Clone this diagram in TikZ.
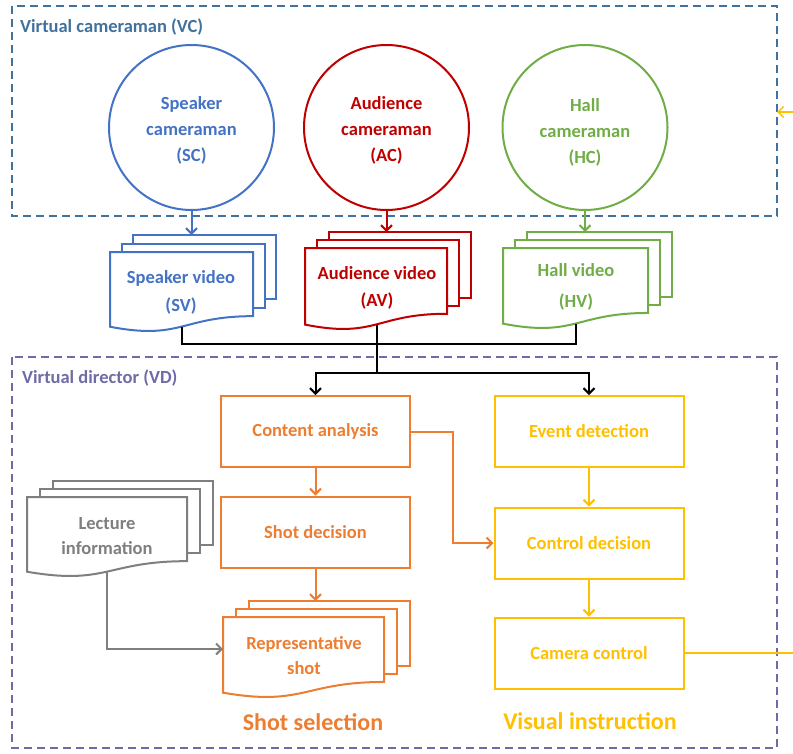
\documentclass[tikz,border=0pt]{standalone}
\usepackage{fontspec}
\setmainfont{Carlito}
\usetikzlibrary{arrows.meta,shapes.geometric}

\definecolor{vcblue}{HTML}{41719C}
\definecolor{vdpurple}{HTML}{6E6BA6}
\definecolor{spblue}{HTML}{4472C4}
\definecolor{audred}{HTML}{C00000}
\definecolor{hallgreen}{HTML}{70AD47}
\definecolor{shotorange}{HTML}{ED7D31}
\definecolor{instyellow}{HTML}{FFC000}
\definecolor{infogrey}{HTML}{7F7F7F}

% three stacked pages: two plain sheets behind a document-shaped front sheet
% #1,#2 front top-left, #3 width, #4 height, #5,#6 sheet offset, #7 colour
\newcommand{\pagestack}[7]{%
  \draw[draw=#7, fill=white, line width=2pt]
    ({#1+2*#5},{#2-2*#6}) rectangle ({#1+2*#5+#3},{#2-2*#6+0.802*#4});
  \draw[draw=#7, fill=white, line width=2pt]
    ({#1+#5},{#2-#6}) rectangle ({#1+#5+#3},{#2-#6+0.802*#4});
  \draw[draw=#7, fill=white, line width=2pt]
    (#1,#2) -- ({#1+#3},#2) -- ({#1+#3},{#2+0.802*#4})
    .. controls ({#1+0.5*#3},{#2+0.802*#4}) and ({#1+0.5*#3},{#2+1.107*#4}) ..
    (#1,{#2+0.934*#4}) -- cycle;
}

\begin{document}
\begin{tikzpicture}[x=1pt,y=-1pt,
  txt/.style={font=\bfseries\fontsize{18.5}{25}\selectfont, align=center},
  groupbox/.style={line width=1.8pt, dash pattern=on 8pt off 5pt},
  camera/.style={circle, draw=#1, line width=2pt, minimum size=165pt, inner sep=0pt},
  camlabel/.style={text=#1, align=center, font=\bfseries\fontsize{18.5}{26}\selectfont},
  stepbox/.style={draw=#1, text=#1, line width=2pt, fill=white, minimum width=189pt,
    minimum height=71pt, inner sep=0pt, txt},
  link/.style={line width=2pt, -{Straight Barb[length=5.5pt,width=11pt]}},
  plain/.style={line width=2pt},
  groupname/.style={font=\bfseries\fontsize{24}{28}\selectfont, anchor=base}
]
\useasboundingbox (0,0) rectangle (793,753);

% ---- groups ----
\draw[groupbox, vcblue] (12,6) rectangle (777,216);
\node[txt, vcblue, anchor=base west, inner sep=0pt] (vctitle) at (20,32) {Virtual cameraman (VC)};

\draw[groupbox, vdpurple] (12,357) rectangle (777,748);
\node[txt, vdpurple, anchor=base west, inner sep=0pt] (vdtitle) at (22,383) {Virtual director (VD)};

% ---- virtual cameramen ----
\node[camera=spblue] (sc) at (191.5,127.5) {};
\node[camlabel=spblue] (sc-label) at (191.5,130.5) {Speaker\\cameraman\\(SC)};
\node[camera=audred] (ac) at (386.5,127.5) {};
\node[camlabel=audred] (ac-label) at (386.5,130.5) {Audience\\cameraman\\(AC)};
\node[camera=hallgreen] (hc) at (585,127.5) {};
\node[camlabel=hallgreen] (hc-label) at (585,132) {Hall\\cameraman\\(HC)};

% ---- video streams ----
\pagestack{110}{252}{143}{80}{11.5}{8.5}{spblue}
\node[txt, spblue, font=\bfseries\fontsize{18.5}{28}\selectfont] (sv) at (181,292) {Speaker video\\(SV)};
\coordinate (sv-top) at (191.5,235);
\coordinate (sv-bot) at (182,326.6);

\pagestack{305}{248}{142}{82}{12}{8}{audred}
\node[txt, audred, font=\bfseries\fontsize{18.5}{27}\selectfont] (av) at (377,288) {Audience video\\(AV)};
\coordinate (av-top) at (386.5,232);
\coordinate (av-bot) at (377,324.5);

\pagestack{503}{248}{145}{81}{12}{8}{hallgreen}
\node[txt, hallgreen, font=\bfseries\fontsize{18.5}{31}\selectfont] (hv) at (576,287) {Hall video\\(HV)};
\coordinate (hv-top) at (585,232);
\coordinate (hv-bot) at (576,323.6);

\draw[link, spblue] (sc.south) -- (sv-top);
\draw[link, audred] (ac.south) -- (av-top);
\draw[link, hallgreen] (hc.south) -- (hv-top);

% ---- merge of the three streams ----
\coordinate (merge) at (377,344);
\coordinate (split) at (377,373);
\draw[plain] (sv-bot) |- (merge) -| (hv-bot);
\draw[plain] (av-bot) -- (split);

% ---- shot selection ----
\node[stepbox=shotorange] (ca) at (315.5,431.5) {Content analysis};
\node[stepbox=shotorange] (sd) at (315.5,532) {Shot decision};

\pagestack{223}{617}{161}{81}{13}{8}{shotorange}
\node[txt, shotorange] (rs) at (304,656) {Representative\\shot};
\coordinate (rs-top) at (315.5,601);
\coordinate (rs-in) at (223,649);

\pagestack{27}{497}{160}{80}{13}{8}{infogrey}
\node[txt, infogrey] (li) at (107,536) {Lecture\\information};
\coordinate (li-bot) at (107,571.5);

% ---- visual instruction ----
\node[stepbox=instyellow] (ed) at (589,431.5) {Event detection};
\node[stepbox=instyellow] (cd) at (589,543) {Control decision};
\node[stepbox=instyellow] (cc) at (589,653) {Camera control};

% ---- connectors ----
\draw[link] (split) -| (ca.north);
\draw[link] (split) -| (ed.north);
\draw[link, shotorange] (ca) -- (sd);
\draw[link, shotorange] (sd.south) -- (rs-top);
\draw[link, shotorange] (ca.east) -- ++(42,0) |- (cd.west);
\draw[link, infogrey] (li-bot) |- (rs-in);
\draw[link, instyellow] (ed) -- (cd);
\draw[link, instyellow] (cd) -- (cc);

% feedback from camera control back to the cameramen
\coordinate (fb-out) at (793,653);
\coordinate (fb-in) at (793,112);
\coordinate (vc-edge) at (777,112);
\draw[plain, instyellow] (cc.east) -- (fb-out);
\draw[link, instyellow, line width=1.5pt] (fb-in) -- (vc-edge);

% ---- group captions ----
\node[groupname, shotorange] (shotsel) at (313,730) {Shot selection};
\node[groupname, instyellow] (visinst) at (590,729) {Visual instruction};
\end{tikzpicture}
\end{document}
